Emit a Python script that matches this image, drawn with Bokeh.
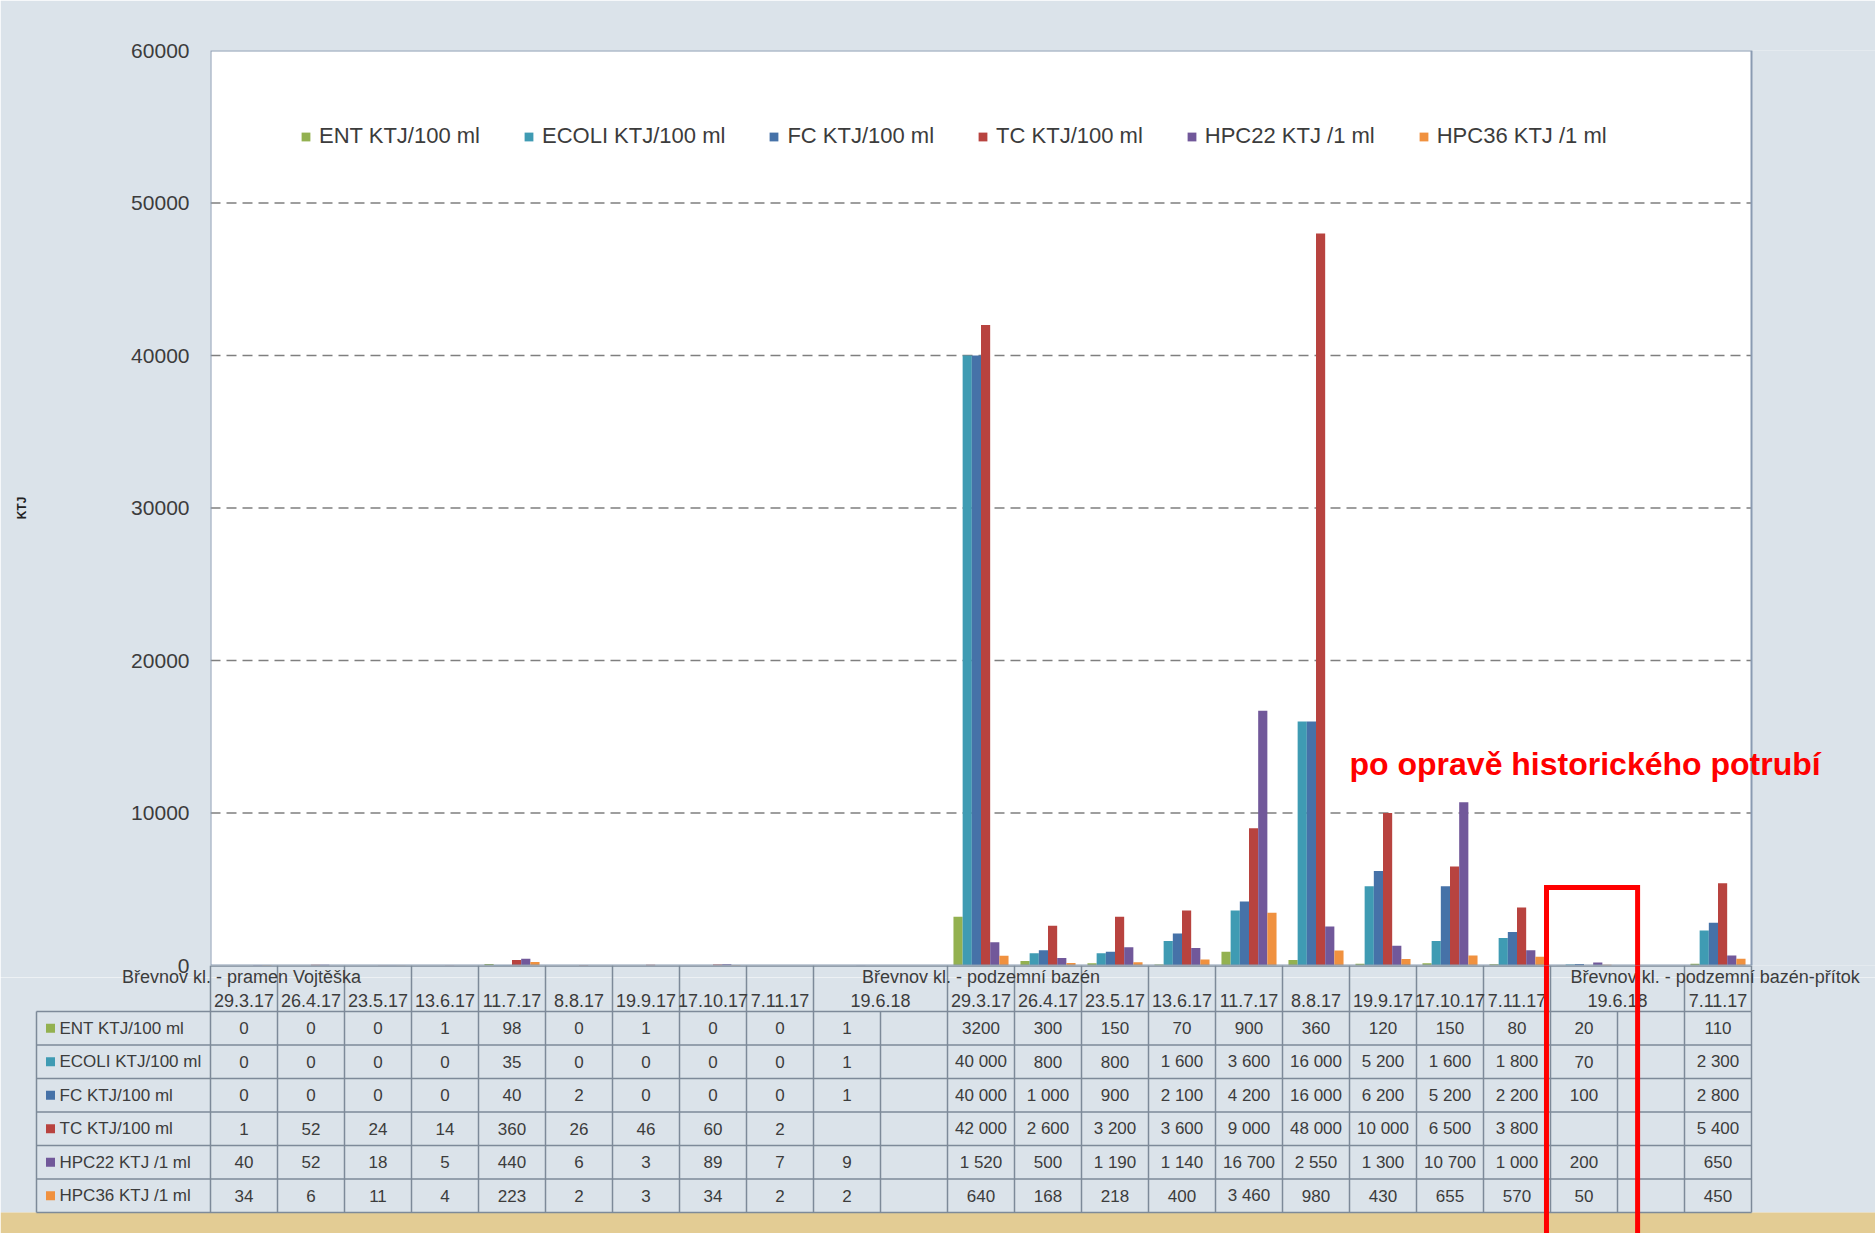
import math
from bokeh.plotting import figure
from bokeh.models import Range1d, Legend, LegendItem, Label, ColumnDataSource, FixedTicker
from bokeh.layouts import column
from bokeh.embed import file_html
from bokeh.resources import INLINE
from bokeh.core.properties import value

# ---------------- data ----------------
dates = ["29.3.17", "26.4.17", "23.5.17", "13.6.17", "11.7.17", "8.8.17", "19.9.17", "17.10.17", "7.11.17",
         "19.6.18", "",
         "29.3.17", "26.4.17", "23.5.17", "13.6.17", "11.7.17", "8.8.17", "19.9.17", "17.10.17", "7.11.17",
         "19.6.18", "", "7.11.17"]
group_names = ["Břevnov kl. - pramen  Vojtěška", "Břevnov kl. - podzemní bazén", "Břevnov kl. - podzemní bazén-přítok"]
group_first_col = [0, 11, 20]

series_names = ["ENT KTJ/100 ml", "ECOLI KTJ/100 ml", "FC KTJ/100 ml", "TC KTJ/100 ml", "HPC22 KTJ /1 ml", "HPC36 KTJ /1 ml"]
ent = [0, 0, 0, 1, 98, 0, 1, 0, 0, 1, None, 3200, 300, 150, 70, 900, 360, 120, 150, 80, 20, None, 110]
ecoli = [0, 0, 0, 0, 35, 0, 0, 0, 0, 1, None, 40000, 800, 800, 1600, 3600, 16000, 5200, 1600, 1800, 70, None, 2300]
fc = [0, 0, 0, 0, 40, 2, 0, 0, 0, 1, None, 40000, 1000, 900, 2100, 4200, 16000, 6200, 5200, 2200, 100, None, 2800]
tc = [1, 52, 24, 14, 360, 26, 46, 60, 2, None, None, 42000, 2600, 3200, 3600, 9000, 48000, 10000, 6500, 3800, None, None, 5400]
hpc22 = [40, 52, 18, 5, 440, 6, 3, 89, 7, 9, None, 1520, 500, 1190, 1140, 16700, 2550, 1300, 10700, 1000, 200, None, 650]
hpc36 = [34, 6, 11, 4, 223, 2, 3, 34, 2, 2, None, 640, 168, 218, 400, 3460, 980, 430, 655, 570, 50, None, 450]
series_values = [ent, ecoli, fc, tc, hpc22, hpc36]
y_ticks = [0, 10000, 20000, 30000, 40000, 50000, 60000]
note_text = "po opravě historického potrubí"

# ---------------- styles ----------------
colors = ["#93b150", "#3f9bb3", "#4672a8", "#b8433f", "#71589a", "#f0913f"]
grouped_format = [False, True, True, True, True, True]
FONT = "Liberation Sans"
TEXT_COL = "#3c3c3c"
PANEL = "#dbe3ea"
GOLD = "#e3cc94"
GRIDLINE = "#7d8a99"
FRAME_COL = "#8a9bb2"

W = 1875
OVER = 12         # overlap between chart figure and table figure
CH = 965 + OVER   # chart figure height
TH = 268          # table figure height
FL, FR = 210.0, 1751.0
NCOL = len(dates)
COLW = (FR - FL) / NCOL
BW = 0.137
XR = NCOL + (W - FR) / COLW

# ---------------- chart ----------------
p = figure(width=W, height=CH, x_range=Range1d(0, XR), y_range=Range1d(y_ticks[0], y_ticks[-1]),
           output_backend="svg", toolbar_location=None, x_axis_location=None,
           min_border_left=int(FL), min_border_right=0, min_border_top=50, min_border_bottom=OVER)
p.frame_align = False
p.background_fill_color = PANEL
p.border_fill_color = PANEL
p.outline_line_color = None

p.yaxis.ticker = FixedTicker(ticks=y_ticks)
p.yaxis.major_label_overrides = {t: str(t) for t in y_ticks}
p.yaxis.axis_line_color = None
p.yaxis.major_tick_line_color = None
p.yaxis.minor_tick_line_color = None
p.yaxis.major_label_standoff = 15
p.yaxis.major_label_text_font = FONT
p.yaxis.major_label_text_font_size = "21px"
p.yaxis.major_label_text_color = TEXT_COL
p.yaxis.axis_label = "KTJ"
p.yaxis.axis_label_text_font = FONT
p.yaxis.axis_label_text_font_size = "12px"
p.yaxis.axis_label_text_font_style = "bold"
p.yaxis.axis_label_text_color = "#222222"
p.yaxis.axis_label_standoff = 99
p.grid.visible = False

# plot area (white) and dashed gridlines
p.quad(left=[0], right=[NCOL], bottom=[y_ticks[0]], top=[y_ticks[-1]], fill_color="white", line_color=None)
gy = y_ticks[1:-1]
p.segment(x0=[0] * len(gy), y0=gy, x1=[NCOL] * len(gy), y1=gy,
          line_color="#7f7f7f", line_dash="10 6", line_width=1.5)

items = []
for k, (name, vals, col) in enumerate(zip(series_names, series_values, colors)):
    xs = [i + 0.5 + (k - 2.5) * BW for i in range(NCOL)]
    tops = [float("nan") if v is None else v for v in vals]
    src = ColumnDataSource(dict(x=xs, top=tops))
    r = p.vbar(x="x", top="top", width=BW, bottom=0, source=src, fill_color=col, line_color=None)
    items.append(LegendItem(label=name, renderers=[r]))

p.quad(left=[0], right=[NCOL], bottom=[y_ticks[0]], top=[y_ticks[-1]], fill_color=None,
       line_color=FRAME_COL, line_width=2)

legend = Legend(items=items, orientation="horizontal", location=(90, 816),
                background_fill_alpha=0, border_line_color=None,
                label_text_font=FONT, label_text_font_size="22px", label_text_color=TEXT_COL,
                glyph_width=11, glyph_height=11, label_standoff=8, spacing=43,
                padding=0, margin=0, label_height=22)
p.add_layout(legend)

p.add_layout(Label(x=17.0, y=13200, text=note_text, text_color="#ff0000", text_font=FONT,
                   text_font_size="32px", text_font_style="bold", text_baseline="middle"))

RX0, RX1 = 19.94, 21.30
p.line(x=[RX0, RX0, RX1, RX1], y=[-8000, 5115, 5115, -8000], line_color="#ff0000",
       line_width=5, line_join="miter")

# ---------------- data table ----------------
x0 = -FL / COLW
x1 = (W - FL) / COLW
t = figure(width=W, height=TH, x_range=Range1d(x0, x1), y_range=Range1d(TH, 0),
           output_backend="svg", toolbar_location=None, x_axis_location=None, y_axis_location=None,
           min_border=0, margin=(-OVER, 0, 0, 0))
t.frame_align = False
t.outline_line_color = None
t.grid.visible = False
t.background_fill_alpha = 0
t.border_fill_alpha = 0

ROW0 = 46.0
ROWH = 33.5
NROW = len(series_names)
TB = ROW0 + ROWH * NROW
LBL_LEFT = (36 - FL) / COLW

t.quad(left=[x0], right=[x1], top=[OVER], bottom=[TB], fill_color=PANEL, line_color=None)
t.quad(left=[x0], right=[x1], top=[TB], bottom=[TH + 5], fill_color=GOLD, line_color=None)

# horizontal lines
hx0, hx1, hy = [], [], []
for r in range(NROW + 1):
    hx0.append(LBL_LEFT); hx1.append(NCOL); hy.append(ROW0 + r * ROWH)
hx0.append(0); hx1.append(NCOL); hy.append(0.5)
t.segment(x0=hx0, y0=hy, x1=hx1, y1=hy, line_color=GRIDLINE, line_width=1.5)

# vertical lines
vx, vy0, vy1 = [], [], []
for k in range(NCOL + 1):
    vx.append(k); vy0.append(ROW0); vy1.append(TB)
    if k not in (10, 21):
        vx.append(k); vy0.append(0); vy1.append(ROW0)
vx.append(LBL_LEFT); vy0.append(ROW0); vy1.append(TB)
t.segment(x0=vx, y0=vy0, x1=vx, y1=vy1, line_color=GRIDLINE, line_width=1.5)


def fmt(v, grouped):
    if v is None:
        return None
    if grouped:
        return "{:,}".format(v).replace(",", " ")
    return str(v)


tx, ty, tt = [], [], []
for r, vals in enumerate(series_values):
    for i, v in enumerate(vals):
        s = fmt(v, grouped_format[r])
        if s is not None:
            tx.append(i + 0.5); ty.append(ROW0 + ROWH * (r + 0.5)); tt.append(s)
t.text(x=tx, y=ty, text=tt, text_align="center", text_baseline="middle",
       text_font=value(FONT), text_font_size="17px", text_color=TEXT_COL)

# row labels
ry = [ROW0 + ROWH * (r + 0.5) for r in range(NROW)]
t.scatter(x=[(50 - FL) / COLW] * NROW, y=ry, marker="square", size=9, fill_color=colors, line_color=None)
t.text(x=[(59 - FL) / COLW] * NROW, y=ry, text=series_names, text_align="left", text_baseline="middle",
       text_font=value(FONT), text_font_size="17px", text_color=TEXT_COL)

# dates
dx, dt = [], []
for i, d in enumerate(dates):
    if not d:
        continue
    span2 = i + 1 < NCOL and dates[i + 1] == ""
    dx.append(i + 1.0 if span2 else i + 0.5)
    dt.append(d)
t.text(x=dx, y=[35] * len(dx), text=dt, text_align="center", text_baseline="middle",
       text_font=value(FONT), text_font_size="18px", text_color=TEXT_COL)

# group labels
gx = [group_first_col[0] + 0.5, group_first_col[1] + 0.5, group_first_col[2] + 0.3]
galign = ["center", "center", "left"]
for g, x, a in zip(group_names, gx, galign):
    t.text(x=[x], y=[11], text=[g], text_align=a, text_baseline="middle",
           text_font=value(FONT), text_font_size="18px", text_color=TEXT_COL)

t.segment(x0=[RX0, RX1], y0=[-5, -5], x1=[RX0, RX1], y1=[TH + 5, TH + 5], line_color="#ff0000", line_width=5)

layout = column(p, t, spacing=0)
with open("out.html", "w", encoding="utf-8") as f:
    f.write(file_html(layout, INLINE))
